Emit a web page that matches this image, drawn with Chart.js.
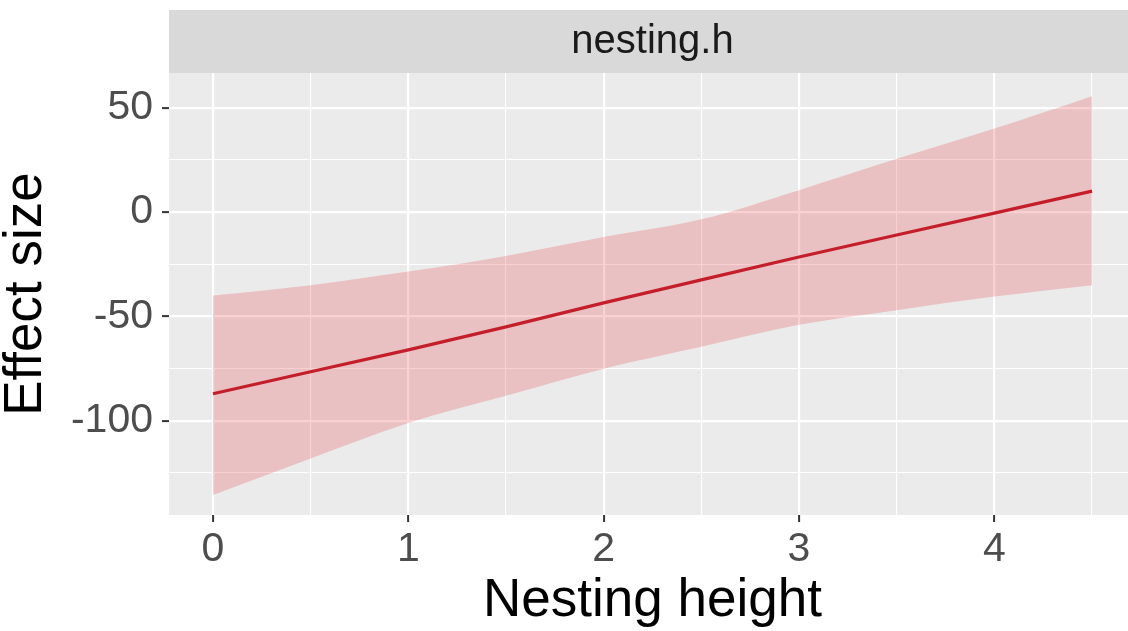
<!DOCTYPE html>
<html><head><meta charset="utf-8">
<script src="https://cdn.jsdelivr.net/npm/chart.js@4/dist/chart.umd.min.js"></script>
<style>html,body{margin:0;padding:0;background:#fff;overflow:hidden;width:1128px;height:631px}canvas{display:block}</style>
</head><body>
<canvas id="c" width="1136" height="631" style="width:1136px;height:631px"></canvas>
<script>
const stripLabel = 'nesting.h';
const xTitle = 'Nesting height';
const yTitle = 'Effect size';
const xValues = [0, 0.5, 1, 1.5, 2, 2.5, 3, 3.5, 4, 4.5];
const fitValues = [-87, -76.5, -66, -55, -43.5, -32.5, -21.5, -11, -0.5, 10];
const upperValues = [-40, -35, -28.5, -21, -12, -3.5, 10.5, 25.5, 40, 55.5];
const lowerValues = [-135.5, -118, -101, -88, -75, -64.5, -54, -47, -40.5, -35];
const xTicks = [0, 0.5, 1, 1.5, 2, 2.5, 3, 3.5, 4, 4.5];
const xTickLabels = ['0', '1', '2', '3', '4'];
const yTicks = [-125, -100, -75, -50, -25, 0, 25, 50];
const yTickLabels = ['-100', '-50', '0', '50'];

const FONT = '"Liberation Sans", Arial, sans-serif';
const pts = arr => xValues.map((x, i) => ({x: x, y: arr[i]}));
const isMajor = (labels, v) => labels.indexOf(String(v)) >= 0;

const panelPlugin = {
  id: 'panel',
  beforeDraw(chart) {
    const {ctx, chartArea: a} = chart;
    ctx.save();
    ctx.fillStyle = '#EBEBEB';
    ctx.fillRect(a.left, a.top, a.right - a.left, a.bottom - a.top);
    ctx.fillStyle = '#D9D9D9';
    ctx.fillRect(a.left, 10, a.right - a.left, a.top - 10);
    ctx.fillStyle = '#1A1A1A';
    ctx.font = '40px ' + FONT;
    ctx.textAlign = 'center';
    ctx.textBaseline = 'middle';
    ctx.fillText(stripLabel, (a.left + a.right) / 2, 42);
    ctx.restore();
  }
};

function gridOpts(labels) {
  return {
    color: '#FFFFFF',
    lineWidth: c => (c.tick && isMajor(labels, c.tick.value)) ? 2.2 : 1.1,
    drawTicks: true,
    tickLength: 7,
    tickWidth: 2,
    tickColor: c => (c.tick && isMajor(labels, c.tick.value)) ? '#333333' : 'rgba(0,0,0,0)'
  };
}

new Chart(document.getElementById('c'), {
  type: 'line',
  data: {
    datasets: [
      {label: 'fit', data: pts(fitValues), borderColor: '#C41E2A', borderWidth: 3.2, pointRadius: 0, fill: false, tension: 0},
      {label: 'lower', data: pts(lowerValues), borderWidth: 0, borderColor: 'rgba(0,0,0,0)', pointRadius: 0, fill: false, cubicInterpolationMode: 'monotone'},
      {label: 'upper', data: pts(upperValues), borderWidth: 0, borderColor: 'rgba(0,0,0,0)', pointRadius: 0, fill: 1, backgroundColor: 'rgba(228,26,28,0.2)', cubicInterpolationMode: 'monotone'}
    ]
  },
  options: {
    responsive: false,
    animation: false,
    devicePixelRatio: 1,
    layout: {padding: {top: 73, left: 0, right: 0, bottom: 0}},
    plugins: {legend: {display: false}, tooltip: {enabled: false}, title: {display: false}},
    scales: {
      x: {
        type: 'linear', min: -0.225, max: 4.725,
        afterBuildTicks: s => { s.ticks = xTicks.map(v => ({value: v})); },
        afterFit: s => { s.height = 116; },
        border: {display: false},
        grid: gridOpts(xTickLabels),
        ticks: {
          autoSkip: false, maxRotation: 0, padding: 3,
          color: '#4D4D4D', font: {family: FONT, size: 41},
          callback: v => isMajor(xTickLabels, v) ? String(v) : ''
        },
        title: {display: true, text: xTitle, color: '#000000', font: {family: FONT, size: 53, lineHeight: 1}, padding: {top: 0, bottom: 3}}
      },
      y: {
        type: 'linear', min: -145.1, max: 66.6,
        afterBuildTicks: s => { s.ticks = yTicks.map(v => ({value: v})); },
        afterFit: s => { s.width = 169; },
        border: {display: false},
        grid: gridOpts(yTickLabels),
        ticks: {
          autoSkip: false, padding: 9,
          color: '#4D4D4D', font: {family: FONT, size: 41},
          callback: v => isMajor(yTickLabels, v) ? String(v) : ''
        },
        title: {display: true, text: yTitle, color: '#000000', font: {family: FONT, size: 53, lineHeight: 1}, padding: {top: 0, bottom: 7}}
      }
    }
  },
  plugins: [panelPlugin]
});
</script>
</body></html>
